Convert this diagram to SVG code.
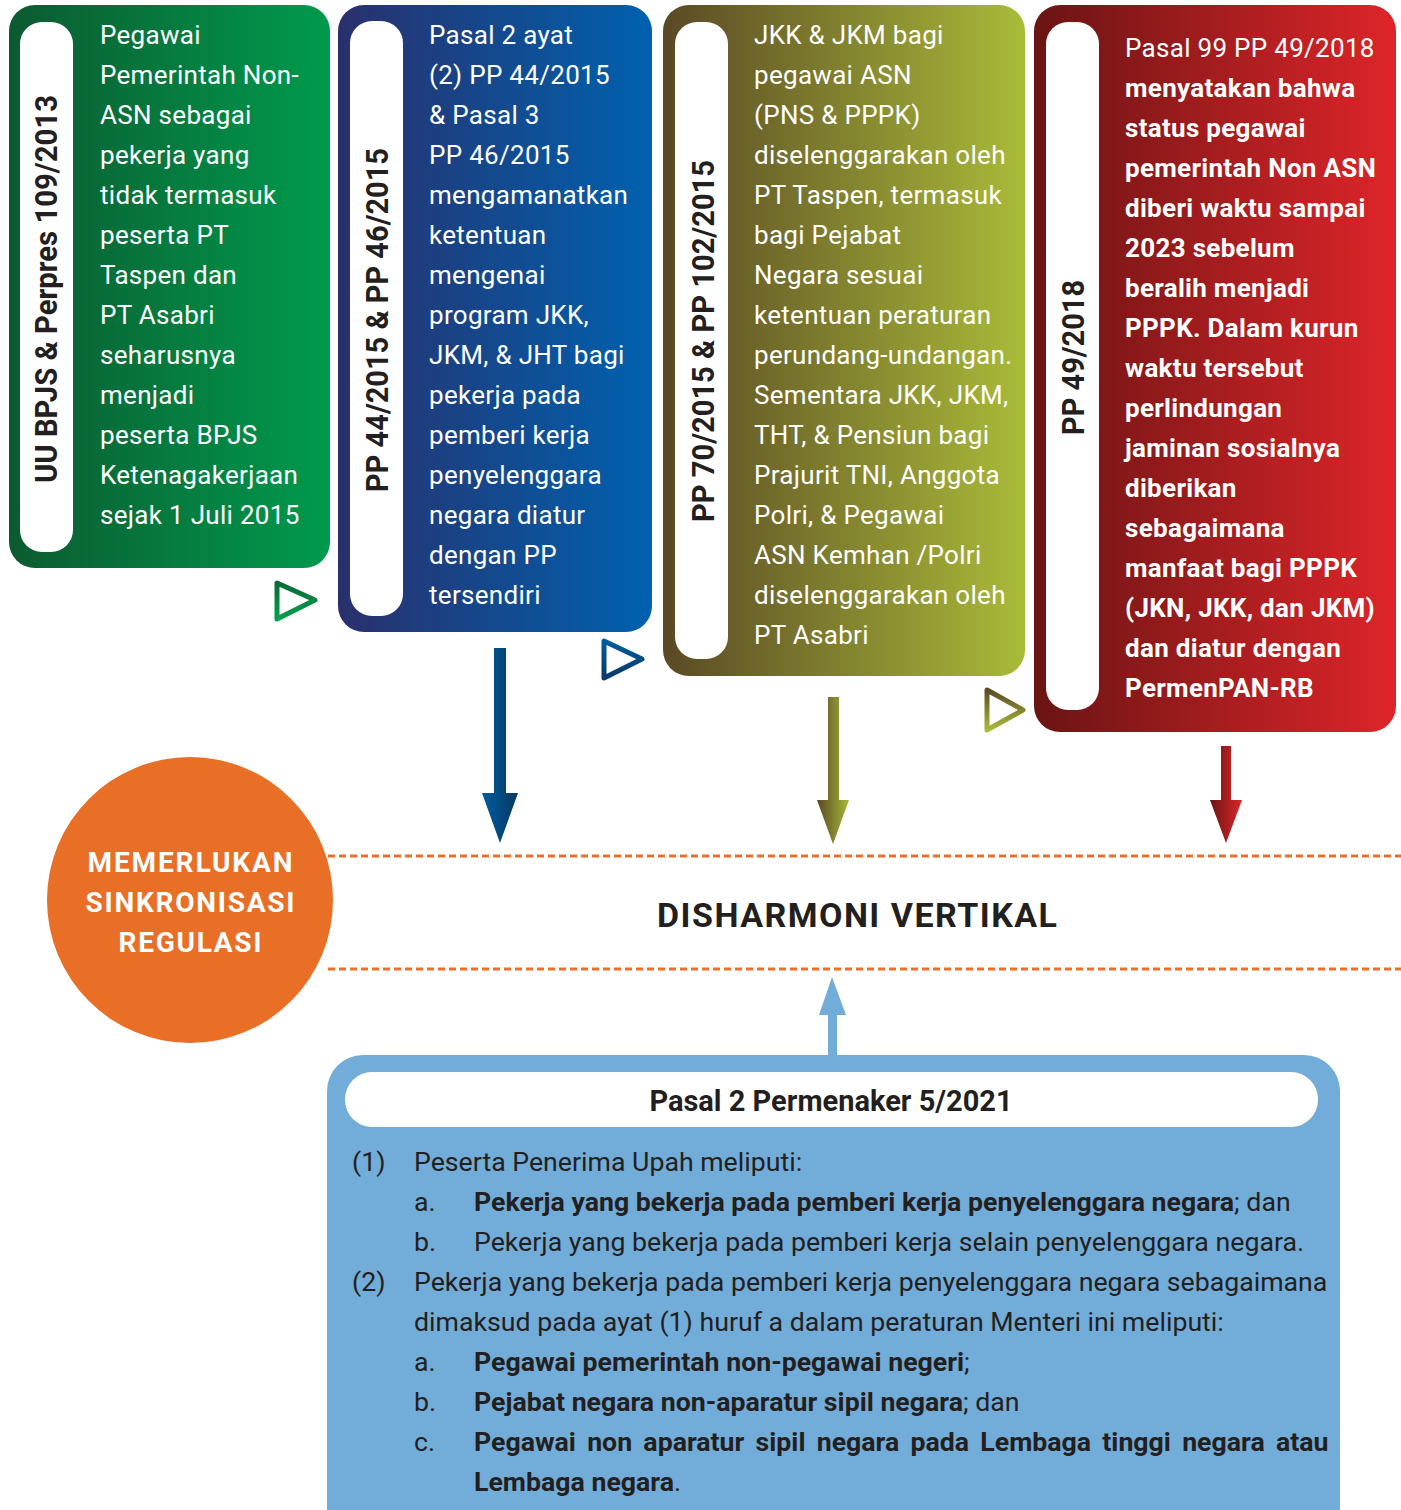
<svg xmlns="http://www.w3.org/2000/svg" width="1401" height="1510" viewBox="0 0 1401 1510">
<style>
.body{font-family:Roboto,'Liberation Sans',sans-serif;font-size:26px;letter-spacing:0.3px;fill:#ffffff}
.bold{font-weight:700}
.vlabel{font-family:Roboto,'Liberation Sans',sans-serif;font-size:32px;font-weight:700;fill:#231f20}
.circ{font-family:Roboto,'Liberation Sans',sans-serif;font-size:28px;font-weight:700;fill:#ffffff;text-anchor:middle}
.bt{font-family:Roboto,'Liberation Sans',sans-serif;font-size:26.7px;fill:#231f20}
.pill{fill:#ffffff}
.dash{stroke:#e8702a;stroke-width:3;stroke-dasharray:7 4;fill:none}
.tri{fill:none;stroke-width:5;stroke-linejoin:round}
</style>
<defs>
<linearGradient id="gGreen" x1="0" y1="0" x2="1" y2="0"><stop offset="0" stop-color="#0c5a30"/><stop offset="1" stop-color="#009a4d"/></linearGradient>
<linearGradient id="gBlue" x1="0" y1="0" x2="1" y2="0"><stop offset="0" stop-color="#29306c"/><stop offset="1" stop-color="#0061af"/></linearGradient>
<linearGradient id="gOlive" x1="0" y1="0" x2="1" y2="0"><stop offset="0" stop-color="#5a4925"/><stop offset="1" stop-color="#aabb39"/></linearGradient>
<linearGradient id="gRed" x1="0" y1="0" x2="1" y2="0"><stop offset="0" stop-color="#6a1414"/><stop offset="1" stop-color="#de2529"/></linearGradient>
<linearGradient id="aBlue" x1="0" y1="0" x2="1" y2="0"><stop offset="0" stop-color="#005ca0"/><stop offset="1" stop-color="#063760"/></linearGradient>
<linearGradient id="aOlive" x1="0" y1="0" x2="1" y2="0"><stop offset="0" stop-color="#5b4a25"/><stop offset="1" stop-color="#a6b838"/></linearGradient>
<linearGradient id="aRed" x1="0" y1="0" x2="1" y2="0"><stop offset="0" stop-color="#6a1414"/><stop offset="1" stop-color="#e0262a"/></linearGradient>
<linearGradient id="tGreen" x1="0" y1="0" x2="0" y2="1"><stop offset="0" stop-color="#0b6a36"/><stop offset="1" stop-color="#00a04f"/></linearGradient>
<linearGradient id="tBlue" x1="0" y1="0" x2="0" y2="1"><stop offset="0" stop-color="#005ca0"/><stop offset="1" stop-color="#0b3a66"/></linearGradient>
<linearGradient id="tOlive" x1="0" y1="0" x2="0" y2="1"><stop offset="0" stop-color="#5c4b25"/><stop offset="1" stop-color="#aabb39"/></linearGradient>
</defs>
<rect width="1401" height="1510" fill="#ffffff"/>

<g id="node-uu-bpjs">
<rect x="9" y="5" width="321" height="563" rx="26" fill="url(#gGreen)"/>
<rect class="pill" x="20" y="22" width="53" height="530" rx="22"/>
<text class="vlabel" transform="translate(57,483) rotate(-90)" textLength="388" lengthAdjust="spacingAndGlyphs">UU BPJS &amp; Perpres 109/2013</text>
<text class="body" x="100" y="44">Pegawai</text>
<text class="body" x="100" y="84">Pemerintah Non-</text>
<text class="body" x="100" y="124">ASN sebagai</text>
<text class="body" x="100" y="164">pekerja yang</text>
<text class="body" x="100" y="204">tidak termasuk</text>
<text class="body" x="100" y="244">peserta PT</text>
<text class="body" x="100" y="284">Taspen dan</text>
<text class="body" x="100" y="324">PT Asabri</text>
<text class="body" x="100" y="364">seharusnya</text>
<text class="body" x="100" y="404">menjadi</text>
<text class="body" x="100" y="444">peserta BPJS</text>
<text class="body" x="100" y="484">Ketenagakerjaan</text>
<text class="body" x="100" y="524">sejak 1 Juli 2015</text>
</g>

<g id="node-pp44">
<rect x="338" y="5" width="314" height="627" rx="26" fill="url(#gBlue)"/>
<rect class="pill" x="350" y="21" width="53" height="595" rx="22"/>
<text class="vlabel" transform="translate(388,492) rotate(-90)" textLength="344" lengthAdjust="spacingAndGlyphs">PP 44/2015 &amp; PP 46/2015</text>
<text class="body" x="429" y="44">Pasal 2 ayat</text>
<text class="body" x="429" y="84">(2) PP 44/2015</text>
<text class="body" x="429" y="124">&amp; Pasal 3</text>
<text class="body" x="429" y="164">PP 46/2015</text>
<text class="body" x="429" y="204">mengamanatkan</text>
<text class="body" x="429" y="244">ketentuan</text>
<text class="body" x="429" y="284">mengenai</text>
<text class="body" x="429" y="324">program JKK,</text>
<text class="body" x="429" y="364">JKM, &amp; JHT bagi</text>
<text class="body" x="429" y="404">pekerja pada</text>
<text class="body" x="429" y="444">pemberi kerja</text>
<text class="body" x="429" y="484">penyelenggara</text>
<text class="body" x="429" y="524">negara diatur</text>
<text class="body" x="429" y="564">dengan PP</text>
<text class="body" x="429" y="604">tersendiri</text>
</g>

<g id="node-pp70">
<rect x="663" y="5" width="362" height="671" rx="26" fill="url(#gOlive)"/>
<rect class="pill" x="675" y="22" width="53" height="637" rx="22"/>
<text class="vlabel" transform="translate(714,522) rotate(-90)" textLength="362" lengthAdjust="spacingAndGlyphs">PP 70/2015 &amp; PP 102/2015</text>
<text class="body" x="754" y="44">JKK &amp; JKM bagi</text>
<text class="body" x="754" y="84">pegawai ASN</text>
<text class="body" x="754" y="124">(PNS &amp; PPPK)</text>
<text class="body" x="754" y="164">diselenggarakan oleh</text>
<text class="body" x="754" y="204">PT Taspen, termasuk</text>
<text class="body" x="754" y="244">bagi Pejabat</text>
<text class="body" x="754" y="284">Negara sesuai</text>
<text class="body" x="754" y="324">ketentuan peraturan</text>
<text class="body" x="754" y="364">perundang-undangan.</text>
<text class="body" x="754" y="404">Sementara JKK, JKM,</text>
<text class="body" x="754" y="444">THT, &amp; Pensiun bagi</text>
<text class="body" x="754" y="484">Prajurit TNI, Anggota</text>
<text class="body" x="754" y="524">Polri, &amp; Pegawai</text>
<text class="body" x="754" y="564">ASN Kemhan /Polri</text>
<text class="body" x="754" y="604">diselenggarakan oleh</text>
<text class="body" x="754" y="644">PT Asabri</text>
</g>

<g id="node-pp49">
<rect x="1034" y="5" width="362" height="727" rx="26" fill="url(#gRed)"/>
<rect class="pill" x="1046" y="22" width="53" height="688" rx="22"/>
<text class="vlabel" transform="translate(1084,435) rotate(-90)" textLength="155" lengthAdjust="spacingAndGlyphs">PP 49/2018</text>
<text class="body" x="1125" y="57">Pasal 99 PP 49/2018</text>
<text class="body bold" x="1125" y="97">menyatakan bahwa</text>
<text class="body bold" x="1125" y="137">status pegawai</text>
<text class="body bold" x="1125" y="177">pemerintah Non ASN</text>
<text class="body bold" x="1125" y="217">diberi waktu sampai</text>
<text class="body bold" x="1125" y="257">2023 sebelum</text>
<text class="body bold" x="1125" y="297">beralih menjadi</text>
<text class="body bold" x="1125" y="337">PPPK. Dalam kurun</text>
<text class="body bold" x="1125" y="377">waktu tersebut</text>
<text class="body bold" x="1125" y="417">perlindungan</text>
<text class="body bold" x="1125" y="457">jaminan sosialnya</text>
<text class="body bold" x="1125" y="497">diberikan</text>
<text class="body bold" x="1125" y="537">sebagaimana</text>
<text class="body bold" x="1125" y="577">manfaat bagi PPPK</text>
<text class="body bold" x="1125" y="617">(JKN, JKK, dan JKM)</text>
<text class="body bold" x="1125" y="657">dan diatur dengan</text>
<text class="body bold" x="1125" y="697">PermenPAN-RB</text>
</g>

<g id="node-sinkronisasi">
<circle cx="190" cy="900" r="143" fill="#e96f26"/>
<text class="circ" x="190" y="872" textLength="205" lengthAdjust="spacing">MEMERLUKAN</text>
<text class="circ" x="190" y="912" textLength="209" lengthAdjust="spacing">SINKRONISASI</text>
<text class="circ" x="190" y="952" textLength="143" lengthAdjust="spacing">REGULASI</text>
</g>

<g id="node-disharmoni">
<line class="dash" x1="328" y1="856" x2="1401" y2="856"/>
<line class="dash" x1="328" y1="969" x2="1401" y2="969"/>
<text x="857" y="927" text-anchor="middle" font-family="Roboto,'Liberation Sans',sans-serif" font-size="34" font-weight="700" fill="#231f20" textLength="400" lengthAdjust="spacing">DISHARMONI VERTIKAL</text>
</g>

<g id="node-permenaker">
<rect x="327" y="1055" width="1013" height="500" rx="36" fill="#72acd8"/>
<rect class="pill" x="345" y="1072" width="973" height="55" rx="27"/>
<text x="831" y="1111" text-anchor="middle" font-family="Roboto,'Liberation Sans',sans-serif" font-size="29" font-weight="700" fill="#231f20">Pasal 2 Permenaker 5/2021</text>
<text class="bt" x="352" y="1171">(1)</text>
<text class="bt" x="414" y="1171">Peserta Penerima Upah meliputi:</text>
<text class="bt" x="414" y="1211">a.</text>
<text class="bt" x="474" y="1211"><tspan font-weight="700">Pekerja yang bekerja pada pemberi kerja penyelenggara negara</tspan>; dan</text>
<text class="bt" x="414" y="1251">b.</text>
<text class="bt" x="474" y="1251">Pekerja yang bekerja pada pemberi kerja selain penyelenggara negara.</text>
<text class="bt" x="352" y="1291">(2)</text>
<text class="bt" x="414" y="1291">Pekerja yang bekerja pada pemberi kerja penyelenggara negara sebagaimana</text>
<text class="bt" x="414" y="1331">dimaksud pada ayat (1) huruf a dalam peraturan Menteri ini meliputi:</text>
<text class="bt" x="414" y="1371">a.</text>
<text class="bt" x="474" y="1371"><tspan font-weight="700">Pegawai pemerintah non-pegawai negeri</tspan>;</text>
<text class="bt" x="414" y="1411">b.</text>
<text class="bt" x="474" y="1411"><tspan font-weight="700">Pejabat negara non-aparatur sipil negara</tspan>; dan</text>
<text class="bt" x="414" y="1451">c.</text>
<text class="bt bold" x="474" y="1451" word-spacing="4.6">Pegawai non aparatur sipil negara pada Lembaga tinggi negara atau</text>
<text class="bt" x="474" y="1491"><tspan font-weight="700">Lembaga negara</tspan>.</text>
</g>

<g id="connectors">
<path class="tri" stroke="url(#tGreen)" d="M277,583 L277,619 L315,600 Z"/>
<path class="tri" stroke="url(#tBlue)" d="M604,641 L604,678 L642,659 Z"/>
<path class="tri" stroke="url(#tOlive)" d="M987,690 L987,730 L1023,710 Z"/>
<path fill="url(#aBlue)" d="M494,648 L506,648 L506,793 L518,793 L500,843 L482,793 L494,793 Z"/>
<path fill="url(#aOlive)" d="M828,697 L839,697 L839,800 L849,800 L833,844 L817,800 L828,800 Z"/>
<path fill="url(#aRed)" d="M1221,746 L1231,746 L1231,800 L1242,800 L1226,843 L1210,800 L1221,800 Z"/>
<path fill="#72acd8" d="M832,977 L846,1015 L837,1015 L837,1056 L828,1056 L828,1015 L819,1015 Z"/>
</g>
</svg>
